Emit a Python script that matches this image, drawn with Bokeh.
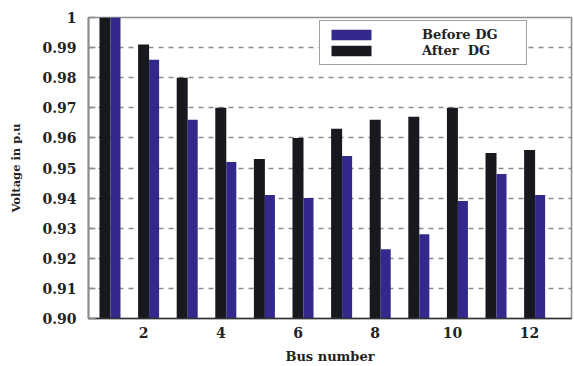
from bokeh.plotting import figure
from bokeh.models import (ColumnDataSource, FixedTicker, Legend, LegendItem, Range1d)
from bokeh.transform import dodge
from bokeh.embed import file_html
from bokeh.resources import INLINE

# Bus voltage profile (p.u.) before and after DG placement
buses = [1, 2, 3, 4, 5, 6, 7, 8, 9, 10, 11, 12]
before_dg = [1.000, 0.986, 0.966, 0.952, 0.941, 0.940, 0.954, 0.923, 0.928, 0.939, 0.948, 0.941]
after_dg = [1.000, 0.991, 0.980, 0.970, 0.953, 0.960, 0.963, 0.966, 0.967, 0.970, 0.955, 0.956]

x_ticks = [2, 4, 6, 8, 10, 12]
y_ticks = [0.90, 0.91, 0.92, 0.93, 0.94, 0.95, 0.96, 0.97, 0.98, 0.99, 1.00]
y_tick_labels = ["0.90", "0.91", "0.92", "0.93", "0.94", "0.95",
                 "0.96", "0.97", "0.98", "0.99", "1"]

y_min = 0.90
FONT = "DejaVu Serif"
BLUE = "#33298c"
BLACK = "#17191f"
GRAY = "#8c8c8c"

source = ColumnDataSource(dict(bus=buses, before=before_dg, after=after_dg))

p = figure(width=574, height=366, output_backend="svg", toolbar_location=None,
           x_range=Range1d(0.573, 13.085), y_range=Range1d(y_min, 1.0),
           min_border_left=88, min_border_right=3, min_border_top=17,
           min_border_bottom=48)
p.background_fill_color = "white"
p.border_fill_color = "white"
p.outline_line_color = GRAY
p.outline_line_width = 1.5

after_r = p.vbar(x=dodge("bus", 0.0, range=p.x_range), top="after", bottom=y_min,
                 width=0.285, source=source, fill_color=BLACK, line_color=None)
before_r = p.vbar(x=dodge("bus", 0.272, range=p.x_range), top="before", bottom=y_min,
                  width=0.26, source=source, fill_color=BLUE, line_color=None)

# grid
p.xgrid.visible = False
p.ygrid.ticker = FixedTicker(ticks=y_ticks)
p.ygrid.grid_line_color = GRAY
p.ygrid.grid_line_width = 1.5
p.ygrid.grid_line_dash = "5 5"
p.ygrid.level = "underlay"

# x axis
xa = p.xaxis[0]
xa.ticker = FixedTicker(ticks=x_ticks)
xa.axis_line_color = "#333333"
xa.axis_line_width = 1.5
xa.major_tick_in = 0
xa.major_tick_out = 0
xa.minor_tick_line_color = None
xa.major_label_standoff = 8
xa.major_label_text_font = FONT
xa.major_label_text_font_style = "bold"
xa.major_label_text_font_size = "14px"
xa.major_label_text_color = "#222222"
xa.axis_label = "Bus number"
xa.axis_label_text_font = FONT
xa.axis_label_text_font_style = "bold"
xa.axis_label_text_font_size = "13px"
xa.axis_label_text_color = "#222222"
xa.axis_label_standoff = 8

# y axis
ya = p.yaxis[0]
ya.ticker = FixedTicker(ticks=y_ticks)
ya.major_label_overrides = dict(zip(y_ticks, y_tick_labels))
ya.axis_line_color = GRAY
ya.axis_line_width = 2
ya.major_tick_in = 7
ya.major_tick_out = 0
ya.major_tick_line_color = GRAY
ya.major_tick_line_width = 1.5
ya.minor_tick_line_color = None
ya.major_label_standoff = 12
ya.major_label_text_font = FONT
ya.major_label_text_font_style = "bold"
ya.major_label_text_font_size = "14px"
ya.major_label_text_color = "#222222"
ya.axis_label = "Voltage in p.u"
ya.axis_label_text_font = FONT
ya.axis_label_text_font_style = "bold"
ya.axis_label_text_font_size = "11.5px"
ya.axis_label_text_color = "#222222"
ya.axis_label_standoff = 16

legend = Legend(items=[LegendItem(label="Before DG", renderers=[before_r]),
                       LegendItem(label="After\u00a0\u00a0DG", renderers=[after_r])],
                location=(231, 253), orientation="vertical",
                glyph_width=50, glyph_height=13, label_height=13,
                label_width=98, label_standoff=46, spacing=1, padding=6,
                border_line_color="#444444", border_line_width=1.5,
                background_fill_color="white", background_fill_alpha=1.0,
                label_text_font=FONT, label_text_font_style="bold",
                label_text_font_size="13px", label_text_color="#222222")
p.add_layout(legend, "center")

open("out.html", "w").write(file_html(p, INLINE))
